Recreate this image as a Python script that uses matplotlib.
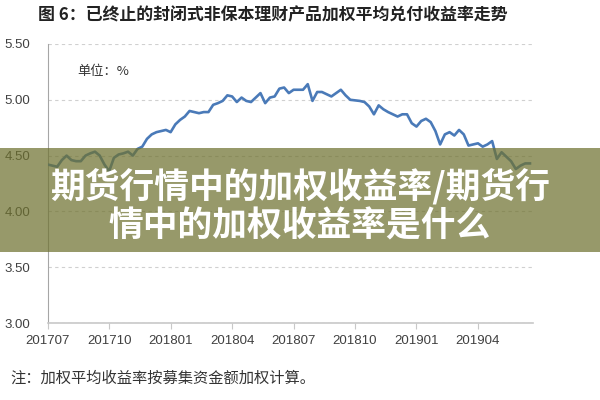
import matplotlib
matplotlib.use("Agg")
import matplotlib.pyplot as plt
from matplotlib.patches import Rectangle

plt.rcParams['font.family'] = ['Noto Sans CJK SC', 'DejaVu Sans']

title = "图 6：已终止的封闭式非保本理财产品加权平均兑付收益率走势"
unit_note = "单位：%"
footnote = "注：加权平均收益率按募集资金额加权计算。"
banner_text = "期货行情中的加权收益率/期货行\n情中的加权收益率是什么"

tick_labels = ["201707", "201710", "201801", "201804",
               "201807", "201810", "201901", "201904"]
weeks_per_label = 13

# weighted average yield (%), roughly weekly
rate = [4.42, 4.41, 4.40, 4.46, 4.50, 4.46, 4.45, 4.45, 4.50, 4.52,
        4.535, 4.50, 4.42, 4.36, 4.48, 4.51, 4.52, 4.535, 4.50, 4.56,
        4.58, 4.65, 4.69, 4.71, 4.72, 4.73, 4.71, 4.78, 4.82, 4.85,
        4.90, 4.89, 4.88, 4.89, 4.89, 4.955, 4.97, 4.99, 5.04, 5.03,
        4.98, 5.02, 4.99, 4.98, 5.02, 5.06, 4.97, 5.02, 5.03, 5.10,
        5.11, 5.06, 5.09, 5.09, 5.09, 5.14, 4.99, 5.07, 5.07, 5.05,
        5.03, 5.06, 5.09, 5.04, 5.00, 4.995, 4.99, 4.98, 4.94, 4.87,
        4.95, 4.915, 4.89, 4.87, 4.85, 4.87, 4.87, 4.79, 4.76, 4.81,
        4.83, 4.80, 4.72, 4.60, 4.69, 4.71, 4.68, 4.73, 4.69, 4.59,
        4.60, 4.61, 4.58, 4.60, 4.63, 4.47, 4.53, 4.49, 4.45, 4.38,
        4.41, 4.43, 4.43]
weeks = list(range(len(rate)))

fig = plt.figure(figsize=(6, 4), dpi=100)
ax = fig.add_axes([0.0795, 0.1925, 0.8085, 0.6975])

ax.plot(weeks, rate, color='#4a7ab8', lw=1.9, solid_joinstyle='round', zorder=3)

ax.set_ylim(3.0, 5.5)
ax.set_yticks([3.0, 3.5, 4.0, 4.5, 5.0, 5.5])
ax.set_yticklabels(["%.2f" % v for v in [3.0, 3.5, 4.0, 4.5, 5.0, 5.5]],
                   family='Liberation Sans', fontsize=9.5, color='#404040')
ax.set_xlim(0, 102.6)
ax.set_xticks([i * weeks_per_label for i in range(len(tick_labels))])
ax.set_xticklabels(tick_labels, family='Liberation Sans', fontsize=9.5, color='#404040')

ax.grid(axis='y', color='#d0d0d0', lw=0.8, ls=(0, (3, 3)))
ax.set_axisbelow(True)
for s in ['top', 'right']:
    ax.spines[s].set_visible(False)
ax.spines['left'].set_color('#a6a6a6')
ax.spines['bottom'].set_color('#c8c8c8')
ax.spines['bottom'].set_linewidth(1.2)
ax.tick_params(axis='y', length=0, pad=12.5)
ax.tick_params(axis='x', length=4, color='#c8c8c8', pad=5)

ax.text(0.06, 0.89, unit_note, transform=ax.transAxes, fontsize=9.5, color='#333333')

fig.text(0.063, 0.962, title, fontsize=12.2, fontweight='bold', color='#222222', va='center')
fig.text(0.017, 0.055, footnote, fontsize=11, color='#333333', va='center')

# overlay banner
fig.patches.append(Rectangle((0, 1 - 252 / 400), 1, 104 / 400, transform=fig.transFigure,
                             facecolor='#6f7230', alpha=0.72, edgecolor='none', zorder=5))
fig.text(0.5, 1 - 206 / 400, banner_text, fontsize=25, fontweight='bold', color='white',
         ha='center', va='center', linespacing=1.15, zorder=6)

fig.savefig("out.png", dpi=100)
